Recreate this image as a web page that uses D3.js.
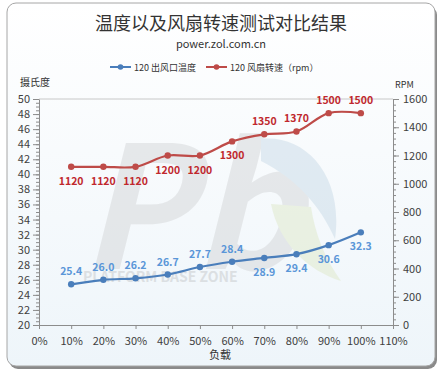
<!DOCTYPE html>
<html>
<head>
<meta charset="utf-8">
<script src="https://cdn.jsdelivr.net/npm/d3@7"></script>
<style>
  body { margin: 0; background: #fff; }
  text { font-family: "Noto Sans CJK SC", "Noto Sans", sans-serif; }
</style>
</head>
<body>
<div id="chart"></div>
<script>
// data
const loads = [10, 20, 30, 40, 50, 60, 70, 80, 90, 100];
const temps = [25.4, 26.0, 26.2, 26.7, 27.7, 28.4, 28.9, 29.4, 30.6, 32.3];
const rpms = [1120, 1120, 1120, 1200, 1200, 1300, 1350, 1370, 1500, 1500];
const tempLabelPos = ["up", "up", "up", "up", "up", "up", "down", "down", "down", "down"];
const rpmLabelPos = ["down", "down", "down", "down", "down", "down", "up", "up", "up", "up"];
const xTicks = [0, 10, 20, 30, 40, 50, 60, 70, 80, 90, 100, 110];
const tempTicks = [20, 22, 24, 26, 28, 30, 32, 34, 36, 38, 40, 42, 44, 46, 48, 50];
const rpmTicks = [0, 200, 400, 600, 800, 1000, 1200, 1400, 1600];

const W = 439, H = 375;
const margin = {top: 99, right: 46, bottom: 50, left: 39};
const width = W - margin.left - margin.right,
      height = H - margin.top - margin.bottom;

const svg = d3.select("#chart").append("svg")
  .attr("width", W)
  .attr("height", H);

// frame + background
const defs = svg.append("defs");
const grad = defs.append("linearGradient").attr("id", "bg")
  .attr("x1", 0).attr("y1", 0).attr("x2", 0).attr("y2", 1);
grad.append("stop").attr("offset", "0%").attr("stop-color", "#ffffff");
grad.append("stop").attr("offset", "100%").attr("stop-color", "#eef5fa");
svg.append("rect")
  .attr("x", 9).attr("y", 6).attr("width", 428).attr("height", 363)
  .attr("rx", 9).attr("fill", "#8a8a8a");
svg.append("rect")
  .attr("x", 7).attr("y", 3).attr("width", 428).attr("height", 363)
  .attr("rx", 9).attr("fill", "url(#bg)")
  .attr("stroke", "#a6a6a6").attr("stroke-width", 1);

// titles
svg.append("text").attr("x", 221).attr("y", 30)
  .attr("text-anchor", "middle").attr("font-size", 18).attr("fill", "#333")
  .text("温度以及风扇转速测试对比结果");
svg.append("text").attr("x", 221).attr("y", 48)
  .attr("text-anchor", "middle").attr("font-size", 11).attr("fill", "#333")
  .text("power.zol.com.cn");

const g = svg.append("g")
  .attr("transform", `translate(${margin.left}, ${margin.top})`);

// watermark
const wm = g.append("g").attr("opacity", 0.5);
wm.append("text").attr("x", 40).attr("y", 170)
  .attr("font-size", 170).attr("font-weight", "bold").attr("font-style", "italic")
  .attr("font-family", "Liberation Sans, sans-serif")
  .attr("fill", "#d4d6d8").text("Pb");
wm.append("path")
  .attr("d", "M222,40 C265,35 305,75 296,140 C282,108 258,80 222,62 Z")
  .attr("fill", "#c9dbe8");
wm.append("path")
  .attr("d", "M232,105 C240,145 270,172 302,182 C286,160 276,135 272,108 Z")
  .attr("fill", "#dfe9c9");
wm.append("text").attr("x", 44).attr("y", 183)
  .attr("font-size", 14).attr("font-weight", "bold")
  .attr("font-family", "Liberation Sans, sans-serif")
  .attr("fill", "#c6c8ca").text("PLATFORM BASE ZONE");

// scales
const x = d3.scaleLinear().domain([0, 110]).range([0, width]);
const yT = d3.scaleLinear().domain([20, 50]).range([height, 0]);
const yR = d3.scaleLinear().domain([0, 1600]).range([height, 0]);

// plot border (top)
g.append("line").attr("x1", 0).attr("x2", width).attr("y1", 0).attr("y2", 0)
  .attr("stroke", "#c8c8c8");

// minor ticks
g.append("g").call(d3.axisLeft(yT).ticks(60).tickSize(3).tickFormat(""))
  .call(a => a.select(".domain").remove())
  .selectAll("line").attr("stroke", "#8c8c8c");
g.append("g").attr("transform", `translate(${width},0)`)
  .call(d3.axisRight(yR).tickValues(d3.range(0, 1601, 40)).tickSize(3).tickFormat(""))
  .call(a => a.select(".domain").remove())
  .selectAll("line").attr("stroke", "#8c8c8c");

// axes
const styleAxis = a => {
  a.select(".domain").attr("stroke", "#8c8c8c");
  a.selectAll(".tick line").attr("stroke", "#8c8c8c");
  a.selectAll("text").attr("fill", "#404040").attr("font-size", 11)
    .attr("font-family", "Noto Sans, sans-serif");
};
g.append("g").attr("transform", `translate(0,${height})`)
  .call(d3.axisBottom(x).tickValues(xTicks).tickSize(4).tickPadding(8).tickFormat(d => d + "%"))
  .call(styleAxis);
g.append("g")
  .call(d3.axisLeft(yT).tickValues(tempTicks).tickSize(6).tickPadding(3).tickSizeOuter(0))
  .call(styleAxis);
g.append("g").attr("transform", `translate(${width},0)`)
  .call(d3.axisRight(yR).tickValues(rpmTicks).tickSize(6).tickPadding(4).tickSizeOuter(0)
    .tickFormat(d3.format("d")))
  .call(styleAxis);

// axis titles
svg.append("text").attr("x", 20).attr("y", 86).attr("font-size", 10).attr("fill", "#333")
  .text("摄氏度");
svg.append("text").attr("x", 395).attr("y", 88).attr("font-size", 9).attr("fill", "#333")
  .attr("font-family", "Noto Sans, sans-serif").text("RPM");
svg.append("text").attr("x", 220).attr("y", 359).attr("font-size", 11).attr("fill", "#333")
  .attr("text-anchor", "middle").text("负载");

// series
const series = [
  {values: temps, y: yT, color: "#4a7ebb", label: "#5a96d8", pos: tempLabelPos, fmt: d3.format(".1f")},
  {values: rpms, y: yR, color: "#be4b48", label: "#c0282d", pos: rpmLabelPos, fmt: d => d}
];
series.forEach(s => {
  const pts = loads.map((l, i) => [x(l), s.y(s.values[i])]);
  g.append("path")
    .attr("d", d3.line().curve(d3.curveCatmullRom.alpha(0.5))(pts))
    .attr("fill", "none").attr("stroke", s.color).attr("stroke-width", 2.2);
  g.selectAll(null).data(pts).enter().append("circle")
    .attr("cx", d => d[0]).attr("cy", d => d[1]).attr("r", 3.2)
    .attr("fill", s.color);
  g.selectAll(null).data(pts).enter().append("text")
    .attr("x", d => d[0])
    .attr("y", (d, i) => s.pos[i] === "up" ? d[1] - 9 : d[1] + 18)
    .attr("text-anchor", "middle").attr("font-size", 10.5).attr("font-weight", "bold")
    .attr("font-family", "Noto Sans, sans-serif")
    .attr("fill", s.label)
    .text((d, i) => s.fmt(s.values[i]));
});

// legend
const legend = [
  {name: "120 出风口温度", color: "#4a7ebb", x: 110},
  {name: "120 风扇转速（rpm）", color: "#be4b48", x: 206}
];
legend.forEach(l => {
  const lg = svg.append("g").attr("transform", `translate(${l.x},67)`);
  lg.append("line").attr("x1", 0).attr("x2", 21).attr("stroke", l.color).attr("stroke-width", 2);
  lg.append("circle").attr("cx", 10.5).attr("r", 2.8).attr("fill", l.color);
  lg.append("text").attr("x", 24).attr("y", 3.5).attr("font-size", 9).attr("fill", "#333")
    .text(l.name);
});
</script>
</body>
</html>
